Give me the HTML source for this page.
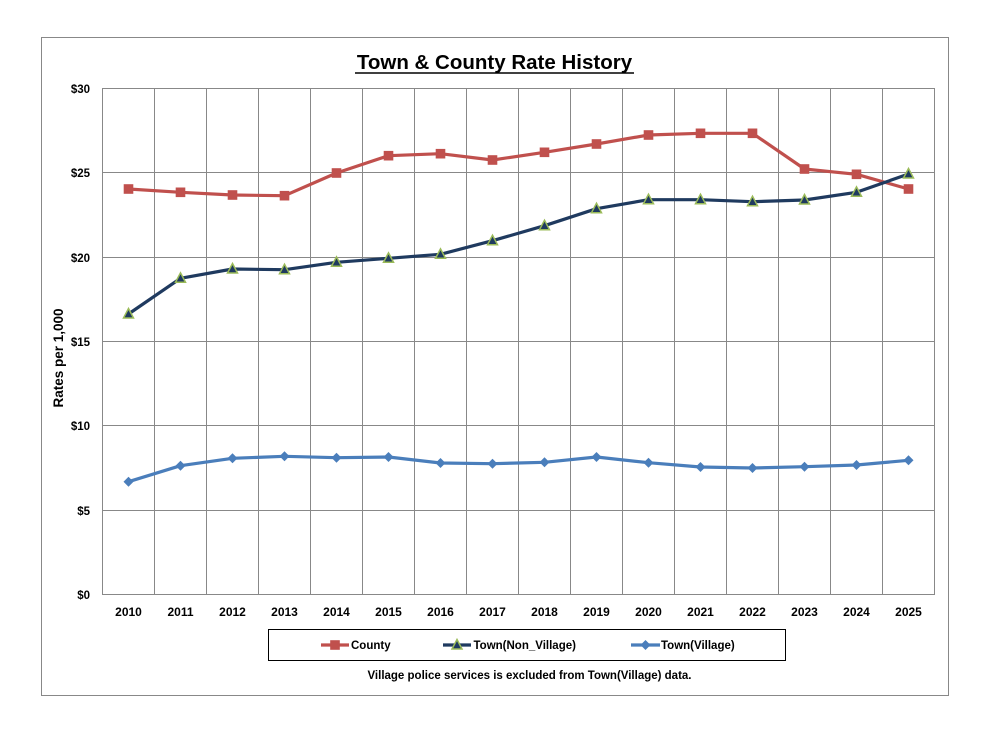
<!DOCTYPE html>
<html>
<head>
<meta charset="utf-8">
<style>
  html, body { margin:0; padding:0; background:#fff; }
  svg { display:block; }
  text { font-family: "Liberation Sans", Arial, sans-serif; font-weight:bold; fill:#000; }
</style>
</head>
<body>
<svg width="985" height="730" viewBox="0 0 985 730" xmlns="http://www.w3.org/2000/svg">
  <rect x="0" y="0" width="985" height="730" fill="#fff"/>
  <!-- outer frame -->
  <rect x="41.5" y="37.5" width="907" height="658" fill="none" stroke="#888" stroke-width="1"/>

  <!-- title -->
  <text x="494.5" y="69" font-size="20.5" text-anchor="middle">Town &amp; County Rate History</text>
  <line x1="355" y1="73" x2="634" y2="73" stroke="#000" stroke-width="1.6"/>

  <!-- grid -->
  <g stroke="#888" stroke-width="1" fill="none">
    <rect x="102.5" y="88.5" width="832" height="506"/>
    <line x1="102.5" y1="172.5" x2="934.5" y2="172.5"/>
    <line x1="102.5" y1="257.5" x2="934.5" y2="257.5"/>
    <line x1="102.5" y1="341.5" x2="934.5" y2="341.5"/>
    <line x1="102.5" y1="425.5" x2="934.5" y2="425.5"/>
    <line x1="102.5" y1="510.5" x2="934.5" y2="510.5"/>
    <line x1="154.5" y1="88.5" x2="154.5" y2="594.5"/>
    <line x1="206.5" y1="88.5" x2="206.5" y2="594.5"/>
    <line x1="258.5" y1="88.5" x2="258.5" y2="594.5"/>
    <line x1="310.5" y1="88.5" x2="310.5" y2="594.5"/>
    <line x1="362.5" y1="88.5" x2="362.5" y2="594.5"/>
    <line x1="414.5" y1="88.5" x2="414.5" y2="594.5"/>
    <line x1="466.5" y1="88.5" x2="466.5" y2="594.5"/>
    <line x1="518.5" y1="88.5" x2="518.5" y2="594.5"/>
    <line x1="570.5" y1="88.5" x2="570.5" y2="594.5"/>
    <line x1="622.5" y1="88.5" x2="622.5" y2="594.5"/>
    <line x1="674.5" y1="88.5" x2="674.5" y2="594.5"/>
    <line x1="726.5" y1="88.5" x2="726.5" y2="594.5"/>
    <line x1="778.5" y1="88.5" x2="778.5" y2="594.5"/>
    <line x1="830.5" y1="88.5" x2="830.5" y2="594.5"/>
    <line x1="882.5" y1="88.5" x2="882.5" y2="594.5"/>
  </g>

  <!-- y labels -->
  <g font-size="11.5" text-anchor="end">
    <text x="90" y="93">$30</text>
    <text x="90" y="177">$25</text>
    <text x="90" y="262">$20</text>
    <text x="90" y="346">$15</text>
    <text x="90" y="430">$10</text>
    <text x="90" y="515">$5</text>
    <text x="90" y="599">$0</text>
  </g>
  <text transform="translate(63,358) rotate(-90)" font-size="13.5" text-anchor="middle">Rates per 1,000</text>

  <!-- x labels -->
  <g font-size="12" text-anchor="middle">
    <text x="128.5" y="616">2010</text>
    <text x="180.5" y="616">2011</text>
    <text x="232.5" y="616">2012</text>
    <text x="284.5" y="616">2013</text>
    <text x="336.5" y="616">2014</text>
    <text x="388.5" y="616">2015</text>
    <text x="440.5" y="616">2016</text>
    <text x="492.5" y="616">2017</text>
    <text x="544.5" y="616">2018</text>
    <text x="596.5" y="616">2019</text>
    <text x="648.5" y="616">2020</text>
    <text x="700.5" y="616">2021</text>
    <text x="752.5" y="616">2022</text>
    <text x="804.5" y="616">2023</text>
    <text x="856.5" y="616">2024</text>
    <text x="908.5" y="616">2025</text>
  </g>

  <defs>
    <rect id="sq" x="-4.8" y="-4.8" width="9.6" height="9.6" fill="#C0504D"/>
    <polygon id="tri" points="0,-5.5 5,4 -5,4" fill="#1F3A5F" stroke="#9BBB59" stroke-width="1.5" stroke-linejoin="miter"/>
    <polygon id="dia" points="0,-5 5,0 0,5 -5,0" fill="#4A7EBB"/>
  </defs>

  <!-- County -->
  <polyline fill="none" stroke="#C0504D" stroke-width="3.2" stroke-linejoin="round"
    points="128.5,189 180.5,192.3 232.5,195 284.5,195.7 336.5,173 388.5,155.7 440.5,153.7 492.5,160 544.5,152.3 596.5,144 648.5,135 700.5,133.3 752.5,133.3 804.5,169 856.5,174.3 908.5,189"/>
  <g>
    <use href="#sq" x="128.5" y="189"/><use href="#sq" x="180.5" y="192.3"/><use href="#sq" x="232.5" y="195"/><use href="#sq" x="284.5" y="195.7"/>
    <use href="#sq" x="336.5" y="173"/><use href="#sq" x="388.5" y="155.7"/><use href="#sq" x="440.5" y="153.7"/><use href="#sq" x="492.5" y="160"/>
    <use href="#sq" x="544.5" y="152.3"/><use href="#sq" x="596.5" y="144"/><use href="#sq" x="648.5" y="135"/><use href="#sq" x="700.5" y="133.3"/>
    <use href="#sq" x="752.5" y="133.3"/><use href="#sq" x="804.5" y="169"/><use href="#sq" x="856.5" y="174.3"/><use href="#sq" x="908.5" y="189"/>
  </g>

  <!-- Town(Non_Village) -->
  <polyline fill="none" stroke="#1F3A5F" stroke-width="3.2" stroke-linejoin="round"
    points="128.5,314 180.5,278.3 232.5,269 284.5,269.7 336.5,262.3 388.5,258.3 440.5,254.3 492.5,240.7 544.5,225.7 596.5,208.7 648.5,199.7 700.5,199.7 752.5,201.7 804.5,200 856.5,192.3 908.5,174"/>
  <g>
    <use href="#tri" x="128.5" y="314"/><use href="#tri" x="180.5" y="278.3"/><use href="#tri" x="232.5" y="269"/><use href="#tri" x="284.5" y="269.7"/>
    <use href="#tri" x="336.5" y="262.3"/><use href="#tri" x="388.5" y="258.3"/><use href="#tri" x="440.5" y="254.3"/><use href="#tri" x="492.5" y="240.7"/>
    <use href="#tri" x="544.5" y="225.7"/><use href="#tri" x="596.5" y="208.7"/><use href="#tri" x="648.5" y="199.7"/><use href="#tri" x="700.5" y="199.7"/>
    <use href="#tri" x="752.5" y="201.7"/><use href="#tri" x="804.5" y="200"/><use href="#tri" x="856.5" y="192.3"/><use href="#tri" x="908.5" y="174"/>
  </g>

  <!-- Town(Village) -->
  <polyline fill="none" stroke="#4A7EBB" stroke-width="3.2" stroke-linejoin="round"
    points="128.5,481.7 180.5,465.7 232.5,458.3 284.5,456.3 336.5,457.7 388.5,457 440.5,463 492.5,463.7 544.5,462.3 596.5,457 648.5,462.7 700.5,467 752.5,468 804.5,466.7 856.5,465 908.5,460.3"/>
  <g>
    <use href="#dia" x="128.5" y="481.7"/><use href="#dia" x="180.5" y="465.7"/><use href="#dia" x="232.5" y="458.3"/><use href="#dia" x="284.5" y="456.3"/>
    <use href="#dia" x="336.5" y="457.7"/><use href="#dia" x="388.5" y="457"/><use href="#dia" x="440.5" y="463"/><use href="#dia" x="492.5" y="463.7"/>
    <use href="#dia" x="544.5" y="462.3"/><use href="#dia" x="596.5" y="457"/><use href="#dia" x="648.5" y="462.7"/><use href="#dia" x="700.5" y="467"/>
    <use href="#dia" x="752.5" y="468"/><use href="#dia" x="804.5" y="466.7"/><use href="#dia" x="856.5" y="465"/><use href="#dia" x="908.5" y="460.3"/>
  </g>

  <!-- legend -->
  <rect x="268.5" y="629.5" width="517" height="31" fill="#fff" stroke="#000" stroke-width="1"/>
  <line x1="321" y1="645" x2="349" y2="645" stroke="#C0504D" stroke-width="3.2"/>
  <use href="#sq" x="335" y="645"/>
  <text x="351" y="649" font-size="11.5">County</text>
  <line x1="443" y1="645" x2="471" y2="645" stroke="#1F3A5F" stroke-width="3.2"/>
  <use href="#tri" x="457" y="645"/>
  <text x="473.5" y="649" font-size="11.5">Town(Non_Village)</text>
  <line x1="631" y1="645" x2="660" y2="645" stroke="#4A7EBB" stroke-width="3.2"/>
  <use href="#dia" x="645.5" y="645"/>
  <text x="661" y="649" font-size="11.5">Town(Village)</text>

  <!-- footnote -->
  <text x="529.5" y="679" font-size="11.5" text-anchor="middle">Village police services is excluded from Town(Village) data.</text>
</svg>
</body>
</html>
